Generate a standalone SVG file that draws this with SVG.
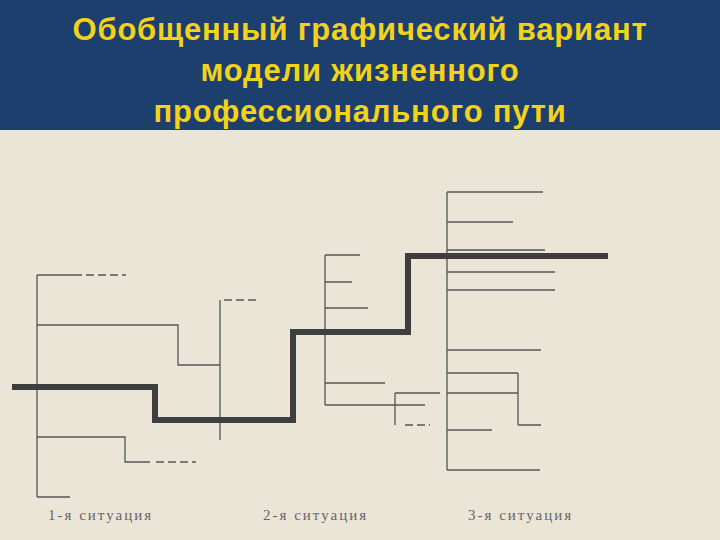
<svg xmlns="http://www.w3.org/2000/svg" width="720" height="540" viewBox="0 0 720 540">
<style>
.t{font-family:"Liberation Sans",Arial,sans-serif;font-weight:bold;font-size:31px;fill:#f2d21a;text-anchor:middle;letter-spacing:0.8px}
.l{stroke:#555;stroke-width:1.3;fill:none}
.d{stroke:#555;stroke-width:1.3;fill:none;stroke-dasharray:8 4}
.th{stroke:#3e3e3e;stroke-width:6;fill:none}
.c{font-family:"Liberation Serif",serif;font-size:15px;fill:#666;letter-spacing:2px}
</style>
<rect width="720" height="540" fill="#ebe5d8"/>
<rect width="720" height="130" fill="#1d3f6e"/>
<g id="title">
<text class="t" x="360" y="40">Обобщенный графический вариант</text>
<text class="t" x="360" y="81">модели жизненного</text>
<text class="t" x="360" y="122">профессионального пути</text>
</g>
<g id="connectors">
<path class="l" d="M37 275V497M37 275H82M37 325H178V365H220M220 300V440M37 437H125V462H150M37 497H70"/>
<path class="d" d="M86 275H126M224 300H258M156 462H196M405 425H430"/>
<path class="l" d="M325 255V405M325 255H360M325 282H352M325 308H368M325 383H385M325 405H395M395 393V425M395 393H440M395 405H425"/>
<path class="l" d="M447 192V470M447 192H543M447 222H513M447 250H545M447 272H555M447 290H555M447 350H541M447 373H518M518 373V425M447 393H518M518 425H541M447 430H492M447 470H540"/>
<path class="th" d="M12 387H155V420H293V332H408V256H608"/>
</g>
<g id="labels">
<text class="c" x="48" y="520">1-я ситуация</text>
<text class="c" x="263" y="520">2-я ситуация</text>
<text class="c" x="468" y="520">3-я ситуация</text>
</g>
</svg>
